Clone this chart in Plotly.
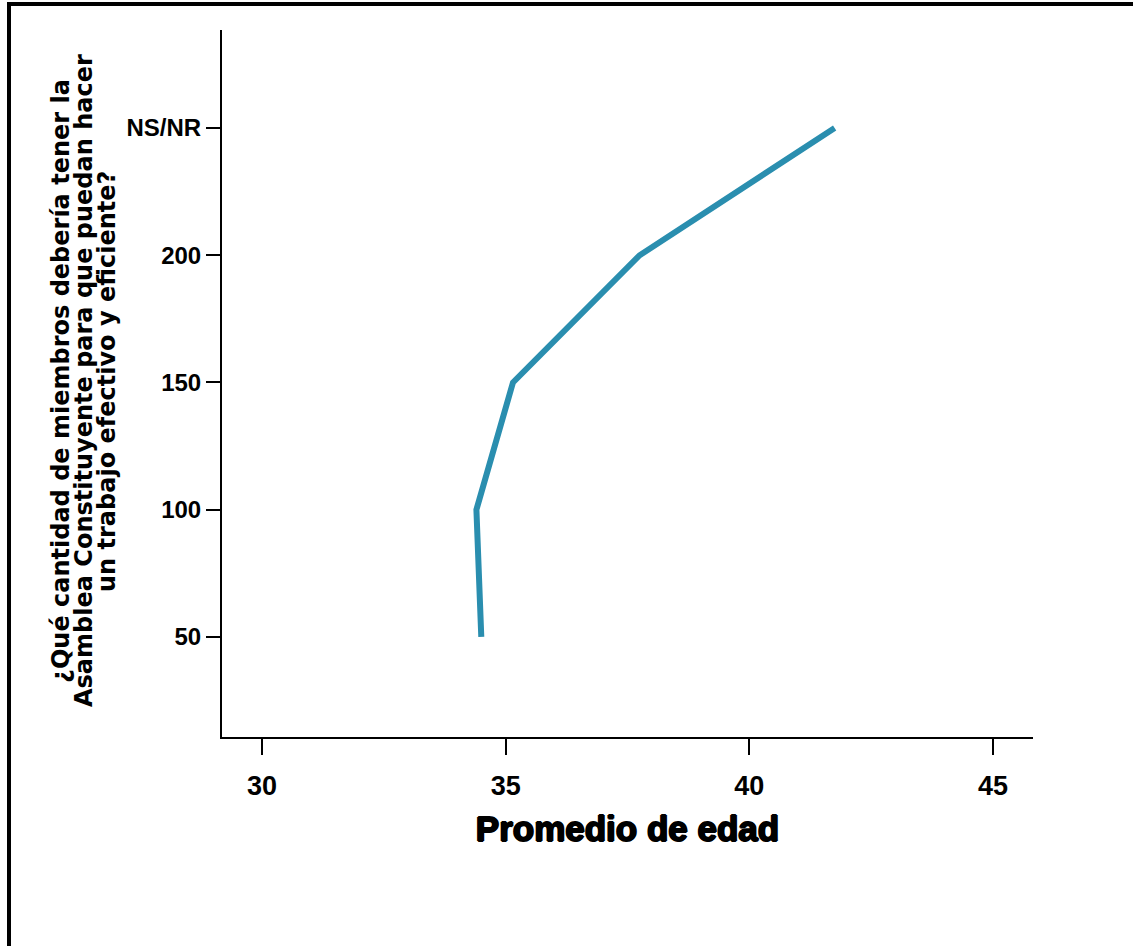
import plotly.graph_objects as go

categories = ["50", "100", "150", "200", "NS/NR"]
mean_age = [34.5, 34.4, 35.15, 37.75, 41.75]
x_ticks = [30, 35, 40, 45]
y_title_lines = [
    "¿Qué cantidad de miembros debería tener la",
    "Asamblea Constituyente para que puedan hacer",
    "un trabajo efectivo y eficiente?",
]
x_title = "Promedio de edad"

W, H = 1133, 946
L, R, T, B = 222, 1033, 30, 737

fig = go.Figure()
fig.add_trace(go.Scatter(
    x=mean_age, y=categories, mode="lines",
    line=dict(color="#2a8eaf", width=6),
    hoverinfo="skip", showlegend=False,
))

LIB = "Liberation Sans, Arial, sans-serif"

fig.update_layout(
    width=W, height=H,
    margin=dict(l=L, r=W - R, t=T, b=H - B, pad=0),
    paper_bgcolor="white", plot_bgcolor="white",
    xaxis=dict(
        range=[29.18, 45.82], tickvals=x_ticks, ticktext=[str(v) for v in x_ticks],
        showgrid=False, zeroline=False, showline=True, linecolor="black", linewidth=2,
        ticks="outside", ticklen=16, tickwidth=1.5, tickcolor="black",
        ticklabelstandoff=8,
        tickfont=dict(size=27, family=LIB, color="black", weight="bold"),
        title=dict(text=x_title, standoff=16,
                   font=dict(size=35, family=LIB, color="black", weight="bold",
                             shadow="1px 0px 0px black, -1px 0px 0px black, 0px 1px 0px black, 0px -1px 0px black")),
    ),
    yaxis=dict(
        type="category", categoryorder="array", categoryarray=categories,
        range=[-0.786, 4.77],
        showgrid=False, zeroline=False, showline=True, linecolor="black", linewidth=2,
        ticks="outside", ticklen=14, tickwidth=1.5, tickcolor="black",
        tickfont=dict(size=24, family=LIB, color="black", weight="bold"),
    ),
)

def px_x(p):
    return (p - L) / (R - L)

def px_y(p):
    return (B - p) / (B - T)

# multi-line rotated y-axis title, one annotation per line
for line_text, cx in zip(y_title_lines, [61, 84, 107]):
    fig.add_annotation(
        text=line_text, xref="paper", yref="paper",
        x=px_x(cx), y=px_y(381), xanchor="center", yanchor="middle",
        showarrow=False, textangle=-90,
        font=dict(size=24, family="DejaVu Sans, sans-serif", color="black", weight="bold"),
    )

# frame lines (left and top)
fig.add_shape(type="line", xref="paper", yref="paper",
              x0=px_x(9), x1=px_x(9), y0=px_y(2), y1=px_y(960),
              line=dict(color="black", width=4))
fig.add_shape(type="line", xref="paper", yref="paper",
              x0=px_x(7), x1=px_x(1140), y0=px_y(4), y1=px_y(4),
              line=dict(color="black", width=4))

fig.write_html(
    "out.html",
    config={"displayModeBar": False},
    post_script="document.body.style.margin='0';document.documentElement.style.overflow='hidden';",
)
